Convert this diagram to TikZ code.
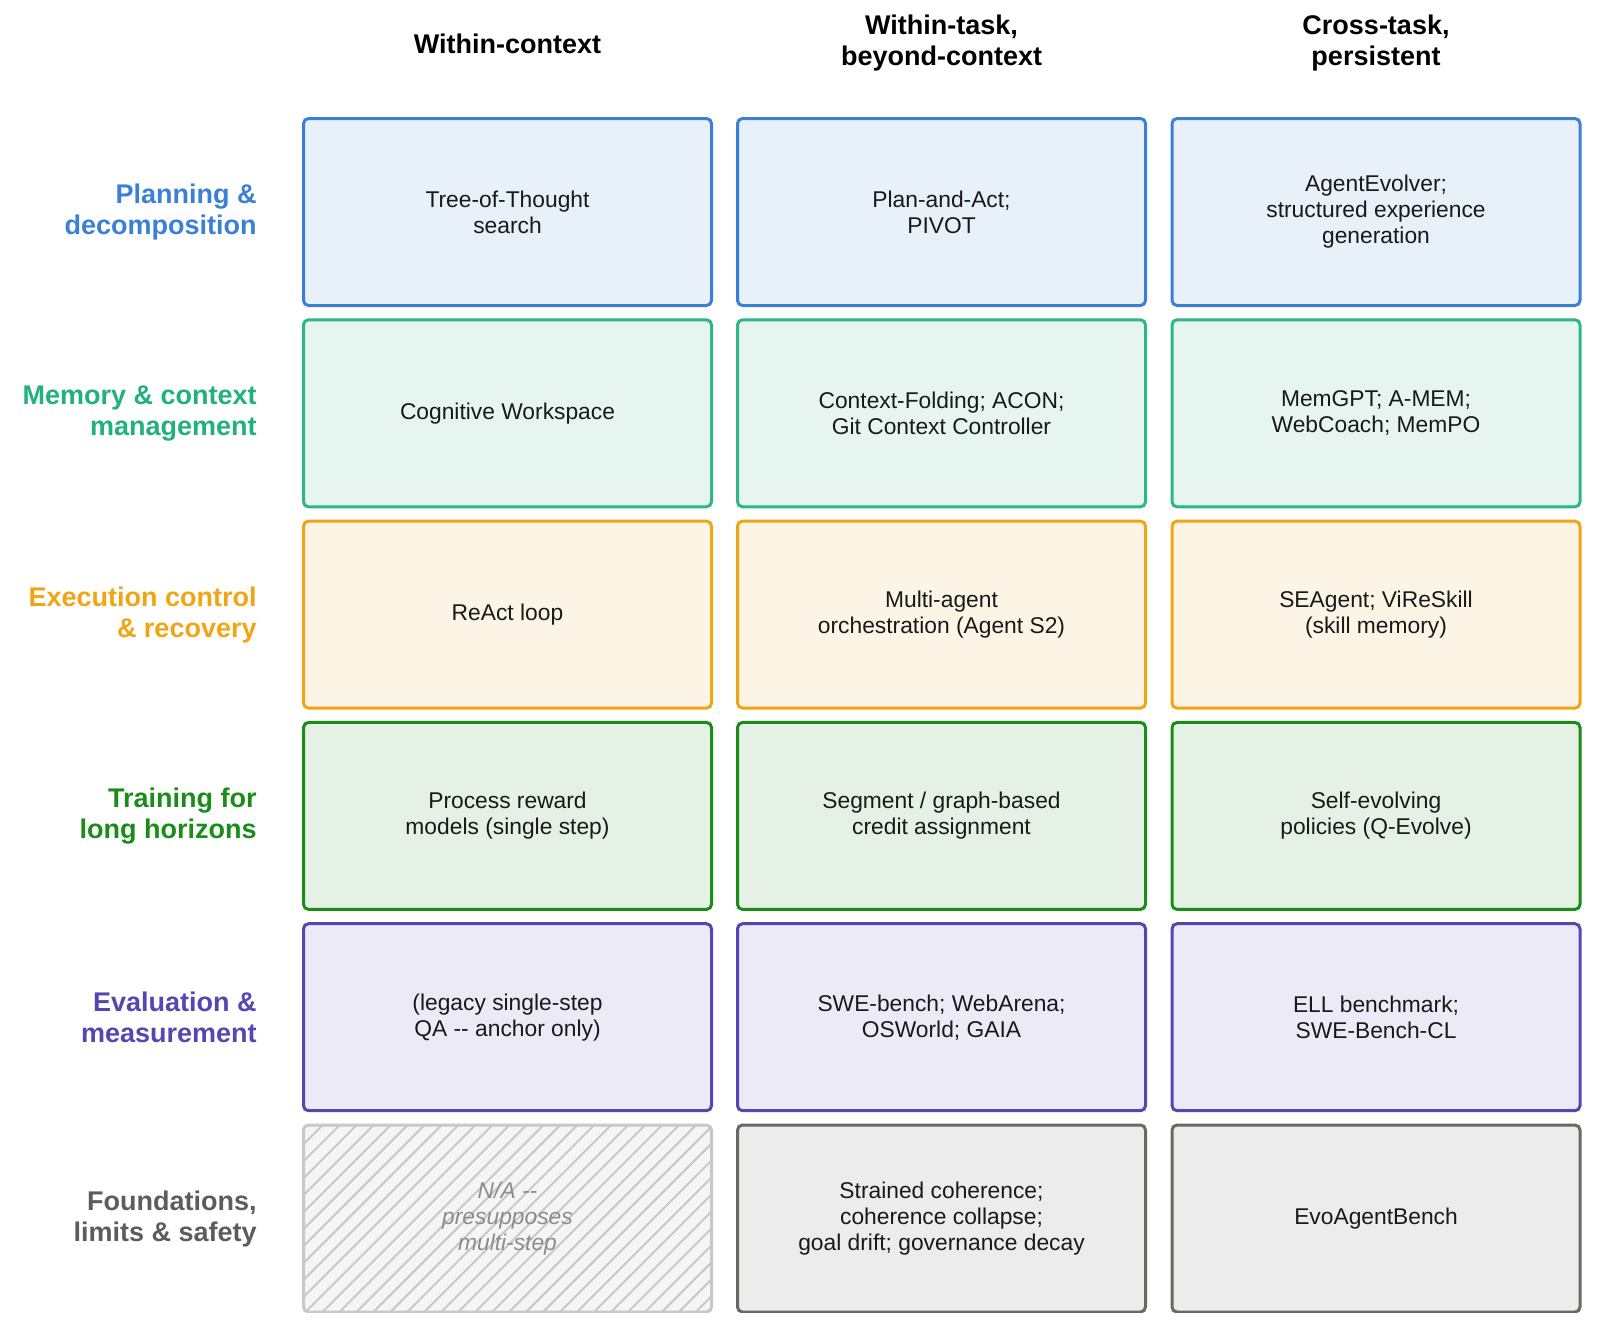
\documentclass[tikz,border=0pt]{standalone}
\usepackage{fontspec}
\setmainfont{Liberation Sans}
\usetikzlibrary{patterns.meta}

\definecolor{planc}{HTML}{3A80D6}
\definecolor{planf}{HTML}{E8F0FA}
\definecolor{memc}{HTML}{2DB784}
\definecolor{memt}{HTML}{22B07C}
\definecolor{memf}{HTML}{E6F5EF}
\definecolor{execc}{HTML}{F0A514}
\definecolor{execf}{HTML}{FCF5E6}
\definecolor{trainc}{HTML}{1A8C1A}
\definecolor{trainf}{HTML}{E5F1E5}
\definecolor{evalc}{HTML}{5546B2}
\definecolor{evalf}{HTML}{ECEAF7}
\definecolor{foundc}{HTML}{6A6964}
\definecolor{foundt}{HTML}{5C5C5C}
\definecolor{foundf}{HTML}{ECECEC}
\definecolor{nac}{HTML}{C8C8C8}
\definecolor{nat}{HTML}{8C8C8C}

\tikzset{
  cell/.style={draw, rounded corners=2.5pt, line width=1.5pt, minimum width=204pt,
    minimum height=93.5pt, inner sep=0pt, align=center, text=black!90,
    font=\fontsize{11.4}{13}\selectfont},
  rowlab/.style={anchor=east, align=right, inner sep=0pt, font=\fontsize{13.5}{15.5}\selectfont\bfseries},
  colhead/.style={align=center, inner sep=0pt, font=\fontsize{13.5}{15.5}\selectfont\bfseries}
}

\begin{document}
\begin{tikzpicture}[x=0.5pt,y=-0.5pt]
            \useasboundingbox (0,0) rectangle (1600,1329);
            \clip (0,0) rectangle (1600,1312);
            % column heads
            \node[colhead] (hwc) at (507.5,44) {Within-context};
            \node[colhead] (hwt) at (941.5,43) {Within-task,\\beyond-context};
            \node[colhead] (hct) at (1376,43) {Cross-task,\\persistent};
            % row labels
            \node[rowlab, text=planc] (lplan) at (257,212) {Planning \&\\decomposition};
            \node[rowlab, text=memt] (lmem) at (257,413.3) {Memory \& context\\management};
            \node[rowlab, text=execc] (lexec) at (257,614.6) {Execution control\\\& recovery};
            \node[rowlab, text=trainc] (ltrain) at (257,815.9) {Training for\\long horizons};
            \node[rowlab, text=evalc] (leval) at (257,1017.2) {Evaluation \&\\measurement};
            \node[rowlab, text=foundt] (lfound) at (257,1218.5) {Foundations,\\limits \& safety};
            % planning
            \node[cell, draw=planc, fill=planf] (plan1) at (507.5,212) {Tree-of-Thought\\search};
            \node[cell, draw=planc, fill=planf] (plan2) at (941.5,212) {Plan-and-Act;\\PIVOT};
            \node[cell, draw=planc, fill=planf] (plan3) at (1376,212) {AgentEvolver;\\structured experience\\generation};
            % memory
            \node[cell, draw=memc, fill=memf] (mem1) at (507.5,413.3) {Cognitive Workspace};
            \node[cell, draw=memc, fill=memf] (mem2) at (941.5,413.3) {Context-Folding; ACON;\\Git Context Controller};
            \node[cell, draw=memc, fill=memf] (mem3) at (1376,413.3) {MemGPT; A-MEM;\\WebCoach; MemPO};
            % execution
            \node[cell, draw=execc, fill=execf] (exec1) at (507.5,614.6) {ReAct loop};
            \node[cell, draw=execc, fill=execf] (exec2) at (941.5,614.6) {Multi-agent\\orchestration (Agent S2)};
            \node[cell, draw=execc, fill=execf] (exec3) at (1376,614.6) {SEAgent; ViReSkill\\(skill memory)};
            % training
            \node[cell, draw=trainc, fill=trainf] (train1) at (507.5,815.9) {Process reward\\models (single step)};
            \node[cell, draw=trainc, fill=trainf] (train2) at (941.5,815.9) {Segment / graph-based\\credit assignment};
            \node[cell, draw=trainc, fill=trainf] (train3) at (1376,815.9) {Self-evolving\\policies (Q-Evolve)};
            % evaluation
            \node[cell, draw=evalc, fill=evalf] (eval1) at (507.5,1017.2) {(legacy single-step\\QA -{}- anchor only)};
            \node[cell, draw=evalc, fill=evalf] (eval2) at (941.5,1017.2) {SWE-bench; WebArena;\\OSWorld; GAIA};
            \node[cell, draw=evalc, fill=evalf] (eval3) at (1376,1017.2) {ELL benchmark;\\SWE-Bench-CL};
            % foundations
            \node[cell, draw=nac, fill=black!4, text=nat, font=\fontsize{11.4}{13}\selectfont\itshape,
              postaction={pattern={Lines[angle=45,distance=6pt,line width=1pt]}, pattern color=nac}]
              (found1) at (507.5,1218.5) {N/A -{}-\\presupposes\\multi-step};
            \node[cell, draw=foundc, fill=foundf] (found2) at (941.5,1218.5) {Strained coherence;\\coherence collapse;\\goal drift; governance decay};
            \node[cell, draw=foundc, fill=foundf] (found3) at (1376,1218.5) {EvoAgentBench};
        \end{tikzpicture}
\end{document}
